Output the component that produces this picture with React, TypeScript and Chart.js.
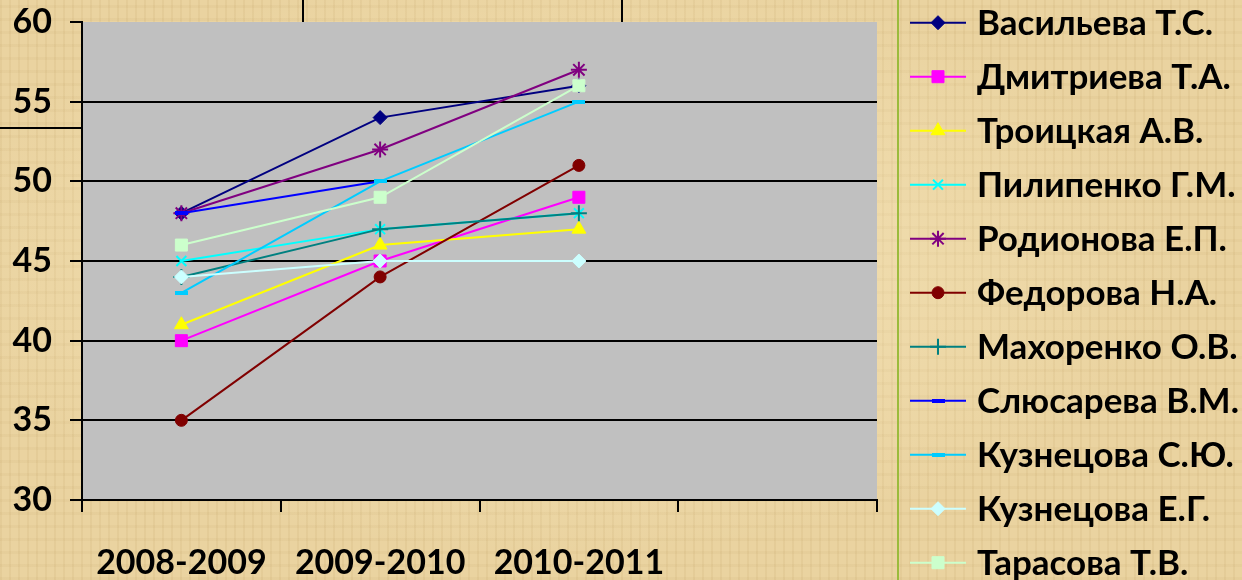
import React, { useEffect, useRef } from 'react';
import { Chart, registerables, PointElement } from 'chart.js';

Chart.register(...registerables);

const categories = ['2008-2009', '2009-2010', '2010-2011', ''];
const seriesNames = [
  'Васильева Т.С.',
  'Дмитриева Т.А.',
  'Троицкая А.В.',
  'Пилипенко Г.М.',
  'Родионова Е.П.',
  'Федорова Н.А.',
  'Махоренко О.В.',
  'Слюсарева В.М.',
  'Кузнецова С.Ю.',
  'Кузнецова Е.Г.',
  'Тарасова Т.В.',
];
const vasilyeva = [48, 54, 56, null];
const dmitrieva = [40, 45, 49, null];
const troitskaya = [41, 46, 47, null];
const pilipenko = [45, 47, 48, null];
const rodionova = [48, 52, 57, null];
const fedorova = [35, 44, 51, null];
const makhorenko = [44, 47, 48, null];
const slyusareva = [48, 50, null, null];
const kuznetsovaSY = [43, 50, 55, null];
const kuznetsovaEG = [44, 45, 45, null];
const tarasova = [46, 49, 56, null];
const seriesValues = [
  vasilyeva, dmitrieva, troitskaya, pilipenko, rodionova, fedorova,
  makhorenko, slyusareva, kuznetsovaSY, kuznetsovaEG, tarasova,
];
const yMin = 30;
const yMax = 60;
const yStep = 5;

const colors = ['#000080', '#FF00FF', '#FFFF00', '#00FFFF', '#800080', '#800000', '#008080', '#0000FF', '#00CCFF', '#CCFFFF', '#CCFFCC'];

const FONT = 'Lato, "Open Sans", sans-serif';

function dashMarker(color: string) {
  const c = document.createElement('canvas');
  c.width = 13;
  c.height = 4;
  const g = c.getContext('2d')!;
  g.fillStyle = color;
  g.fillRect(0, 0, 13, 4);
  return c;
}

export default function App() {
  const ref = useRef<HTMLCanvasElement | null>(null);

  useEffect(() => {
    const canvas = ref.current!;
    const markers: any[] = [
      { pointStyle: 'rectRot', radius: 7, bw: 1 },
      { pointStyle: 'rect', radius: 8.5, bw: 1 },
      { pointStyle: 'triangle', radius: 8, bw: 1 },
      { pointStyle: 'crossRot', radius: 7, bw: 2 },
      { pointStyle: 'star', radius: 8, bw: 2 },
      { pointStyle: 'circle', radius: 6, bw: 1 },
      { pointStyle: 'cross', radius: 8, bw: 2 },
      { pointStyle: dashMarker(colors[7]), radius: 6, bw: 1 },
      { pointStyle: dashMarker(colors[8]), radius: 6, bw: 1 },
      { pointStyle: 'rectRot', radius: 7, bw: 1 },
      { pointStyle: 'rect', radius: 8.5, bw: 1 },
    ];

    const bgPlugin = {
      id: 'plotBg',
      beforeDraw(chart: any) {
        const { ctx, chartArea: a } = chart;
        ctx.save();
        ctx.fillStyle = '#C0C0C0';
        ctx.fillRect(a.left, a.top, a.right - a.left, a.bottom - a.top);
        ctx.restore();
      },
    };

    const legendPlugin = {
      id: 'lineLegend',
      afterDraw(chart: any) {
        const ctx = chart.ctx;
        ctx.save();
        chart.data.datasets.forEach((ds: any, i: number) => {
          const y = 22.7 + i * 54;
          ctx.strokeStyle = ds.borderColor;
          ctx.lineWidth = 2;
          ctx.beginPath();
          ctx.moveTo(910, y);
          ctx.lineTo(966, y);
          ctx.stroke();
          const meta = chart.getDatasetMeta(i);
          const el = meta.data[0];
          const p = new (PointElement as any)({ x: 938, y, options: el.options });
          p.draw(ctx, { left: 0, top: 0, right: 3000, bottom: 3000 });
          ctx.fillStyle = '#000';
          ctx.font = `bold 35px ${FONT}`;
          ctx.textBaseline = 'middle';
          ctx.textAlign = 'left';
          ctx.fillText(seriesNames[i], 977, y + 1);
        });
        ctx.restore();
      },
    };

    const chart = new Chart(canvas, {
      type: 'line',
      data: {
        labels: categories,
        datasets: seriesValues.map((vals, i) => ({
          label: seriesNames[i],
          data: vals,
          borderColor: colors[i],
          backgroundColor: colors[i],
          pointBackgroundColor: colors[i],
          pointBorderColor: colors[i],
          pointStyle: markers[i].pointStyle,
          pointRadius: markers[i].radius,
          pointBorderWidth: markers[i].bw,
          borderWidth: 2,
          fill: false,
          tension: 0,
          spanGaps: false,
          order: -i,
        })),
      },
      options: {
        responsive: false,
        animation: false,
        devicePixelRatio: 1,
        layout: { padding: { top: 22, right: 365, left: 0, bottom: 0 } },
        plugins: {
          legend: { display: false },
          tooltip: { enabled: false },
          title: { display: false },
        },
        scales: {
          x: {
            type: 'category',
            offset: true,
            grid: {
              offset: true,
              drawOnChartArea: false,
              drawTicks: true,
              tickLength: 12,
              color: '#000',
              lineWidth: 2,
            },
            border: { color: '#000', width: 2 },
            ticks: {
              color: '#000',
              font: { family: FONT, size: 34, weight: 'bold' },
              padding: 31,
              autoSkip: false,
              maxRotation: 0,
              minRotation: 0,
            },
            afterFit(s: any) {
              s.height = 80;
              s.paddingLeft = 0;
              s.paddingRight = 0;
            },
          },
          y: {
            min: yMin,
            max: yMax,
            ticks: {
              stepSize: yStep,
              color: '#000',
              font: { family: FONT, size: 34, weight: 'bold' },
              padding: 18,
            },
            grid: {
              color: (c: any) => (c.tick && c.tick.value === yMax ? 'rgba(0,0,0,0)' : '#000'),
              tickColor: '#000',
              lineWidth: 2,
              tickLength: 12,
            },
            border: { color: '#000', width: 2 },
            afterFit(s: any) {
              s.width = 82;
              s.paddingTop = 0;
              s.paddingBottom = 0;
            },
          },
        },
      } as any,
      plugins: [bgPlugin, legendPlugin],
    });
    return () => chart.destroy();
  }, []);

  const bg: React.CSSProperties = {
    position: 'fixed',
    left: 0,
    top: 0,
    width: 1242,
    height: 580,
    overflow: 'hidden',
    backgroundColor: '#EAD3A0',
    backgroundImage: [
      'radial-gradient(ellipse at 45% 45%, rgba(255,243,205,0.5), rgba(255,243,205,0) 65%)',
      'repeating-linear-gradient(90deg, rgba(150,110,40,0.07) 0px, rgba(150,110,40,0.07) 2px, rgba(0,0,0,0) 2px, rgba(0,0,0,0) 9px)',
      'repeating-linear-gradient(0deg, rgba(150,110,40,0.05) 0px, rgba(150,110,40,0.05) 3px, rgba(0,0,0,0) 3px, rgba(0,0,0,0) 13px)',
    ].join(','),
  };

  return (
    <div style={bg}>
      <div style={{ position: 'absolute', left: 302, top: 0, width: 2, height: 22, background: '#000' }} />
      <div style={{ position: 'absolute', left: 621, top: 0, width: 2, height: 22, background: '#000' }} />
      <div style={{ position: 'absolute', left: 0, top: 127, width: 82, height: 2, background: '#000' }} />
      <div style={{ position: 'absolute', left: 897, top: 0, width: 2, height: 580, background: '#9BBB3C' }} />
      <canvas ref={ref} width={1242} height={580} style={{ position: 'absolute', left: 0, top: 0, width: 1242, height: 580 }} />
    </div>
  );
}
